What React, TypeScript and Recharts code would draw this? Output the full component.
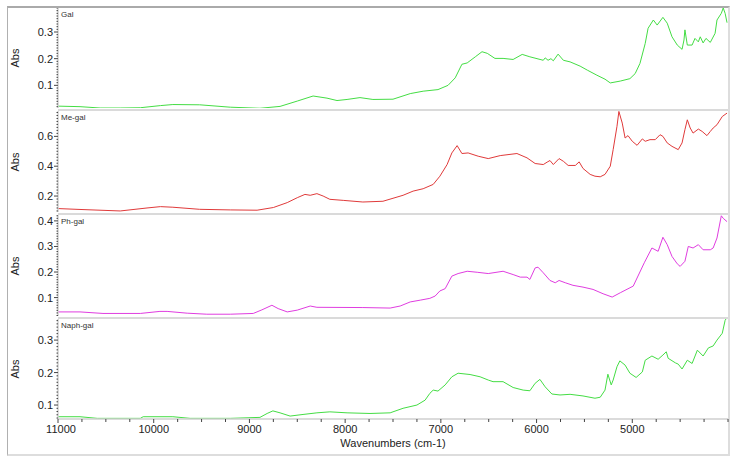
import React from 'react'
import { LineChart, Line, XAxis, YAxis } from 'recharts'

// wavenumbers (cm-1) and absorbance
const galWn = [11000, 10770, 10560, 10350, 10140, 9930, 9800, 9520, 9200, 8890, 8680, 8500, 8335, 8190, 8085, 7980, 7845, 7710, 7500, 7320, 7185, 7030, 6925, 6850, 6780, 6725, 6640, 6570, 6515, 6435, 6350, 6245, 6150, 6070, 5930, 5910, 5880, 5850, 5825, 5775, 5720, 5650, 5545, 5470, 5370, 5285, 5230, 5125, 5025, 4970, 4920, 4865, 4835, 4780, 4740, 4680, 4635, 4585, 4530, 4480, 4460, 4450, 4425, 4375, 4345, 4310, 4290, 4260, 4230, 4185, 4135, 4115, 4070, 4050, 4030, 4010]
const galAbs = [0.022, 0.02, 0.015, 0.015, 0.016, 0.024, 0.028, 0.027, 0.018, 0.014, 0.021, 0.041, 0.06, 0.052, 0.043, 0.047, 0.054, 0.047, 0.048, 0.069, 0.078, 0.084, 0.1, 0.128, 0.179, 0.184, 0.207, 0.226, 0.22, 0.201, 0.201, 0.197, 0.216, 0.207, 0.194, 0.203, 0.194, 0.2, 0.192, 0.217, 0.194, 0.188, 0.172, 0.157, 0.138, 0.123, 0.109, 0.116, 0.125, 0.144, 0.182, 0.257, 0.314, 0.345, 0.326, 0.355, 0.333, 0.282, 0.251, 0.235, 0.27, 0.308, 0.251, 0.251, 0.276, 0.263, 0.282, 0.259, 0.276, 0.261, 0.295, 0.345, 0.37, 0.39, 0.37, 0.335]

const meWn = [11000, 10770, 10350, 10070, 9930, 9800, 9520, 9200, 8920, 8750, 8605, 8500, 8420, 8365, 8295, 8230, 8160, 8020, 7815, 7605, 7500, 7395, 7290, 7185, 7080, 7010, 6935, 6885, 6830, 6780, 6715, 6610, 6505, 6380, 6205, 6100, 6015, 5930, 5890, 5860, 5825, 5765, 5720, 5670, 5595, 5555, 5515, 5440, 5390, 5335, 5285, 5230, 5200, 5160, 5140, 5105, 5075, 5045, 5000, 4950, 4895, 4865, 4815, 4760, 4710, 4680, 4635, 4585, 4520, 4480, 4450, 4425, 4395, 4365, 4310, 4270, 4220, 4185, 4155, 4115, 4060, 4010]
const meAbs = [0.116, 0.11, 0.1, 0.12, 0.129, 0.125, 0.111, 0.107, 0.105, 0.123, 0.156, 0.189, 0.211, 0.205, 0.216, 0.2, 0.178, 0.171, 0.16, 0.165, 0.185, 0.205, 0.233, 0.249, 0.278, 0.333, 0.411, 0.489, 0.538, 0.485, 0.489, 0.467, 0.451, 0.471, 0.485, 0.456, 0.418, 0.411, 0.427, 0.438, 0.411, 0.451, 0.433, 0.405, 0.405, 0.429, 0.385, 0.345, 0.333, 0.329, 0.345, 0.4, 0.511, 0.667, 0.767, 0.689, 0.589, 0.605, 0.567, 0.54, 0.583, 0.567, 0.578, 0.578, 0.611, 0.6, 0.556, 0.533, 0.511, 0.556, 0.645, 0.711, 0.656, 0.622, 0.649, 0.633, 0.605, 0.633, 0.656, 0.678, 0.733, 0.756]

const phWn = [11000, 10770, 10530, 10140, 9935, 9860, 9650, 9445, 9200, 8960, 8870, 8765, 8700, 8605, 8500, 8365, 8295, 7815, 7530, 7425, 7320, 7215, 7115, 7060, 7010, 6955, 6885, 6820, 6725, 6620, 6505, 6350, 6245, 6170, 6100, 6070, 6015, 5985, 5930, 5860, 5805, 5765, 5700, 5620, 5515, 5410, 5305, 5210, 5125, 4990, 4875, 4795, 4730, 4680, 4635, 4585, 4530, 4500, 4450, 4415, 4365, 4310, 4260, 4185, 4155, 4115, 4070, 4050, 4010]
const phAbs = [0.044, 0.044, 0.038, 0.038, 0.046, 0.046, 0.039, 0.035, 0.035, 0.038, 0.052, 0.07, 0.057, 0.044, 0.051, 0.067, 0.062, 0.061, 0.059, 0.067, 0.083, 0.09, 0.097, 0.106, 0.126, 0.135, 0.184, 0.194, 0.203, 0.199, 0.194, 0.203, 0.19, 0.18, 0.18, 0.171, 0.216, 0.219, 0.197, 0.167, 0.158, 0.167, 0.158, 0.148, 0.141, 0.132, 0.115, 0.102, 0.119, 0.145, 0.236, 0.294, 0.281, 0.336, 0.307, 0.261, 0.232, 0.222, 0.242, 0.3, 0.294, 0.307, 0.287, 0.287, 0.294, 0.333, 0.42, 0.41, 0.397]

const naphWn = [11000, 10770, 10590, 10140, 10110, 9800, 9620, 9200, 8890, 8815, 8755, 8680, 8575, 8440, 8295, 8160, 7980, 7740, 7530, 7395, 7250, 7165, 7115, 7080, 7030, 6955, 6885, 6820, 6695, 6590, 6505, 6455, 6350, 6245, 6140, 6070, 6015, 5965, 5910, 5840, 5755, 5650, 5515, 5390, 5335, 5285, 5255, 5220, 5200, 5160, 5130, 5075, 5025, 4960, 4895, 4865, 4795, 4730, 4680, 4645, 4625, 4550, 4520, 4480, 4425, 4375, 4320, 4260, 4205, 4155, 4115, 4060, 4030, 4010]
const naphAbs = [0.064, 0.064, 0.059, 0.059, 0.064, 0.064, 0.059, 0.059, 0.062, 0.074, 0.082, 0.076, 0.066, 0.071, 0.076, 0.079, 0.076, 0.074, 0.076, 0.09, 0.1, 0.115, 0.136, 0.146, 0.143, 0.162, 0.187, 0.198, 0.194, 0.187, 0.177, 0.172, 0.172, 0.154, 0.146, 0.144, 0.167, 0.179, 0.156, 0.134, 0.131, 0.133, 0.128, 0.121, 0.124, 0.146, 0.195, 0.162, 0.177, 0.218, 0.236, 0.223, 0.198, 0.185, 0.202, 0.238, 0.251, 0.241, 0.254, 0.264, 0.244, 0.23, 0.226, 0.211, 0.238, 0.228, 0.269, 0.251, 0.276, 0.282, 0.3, 0.321, 0.361, 0.37]

// tick labels
const xLabels = [11000, 10000, 9000, 8000, 7000, 6000, 5000]
const galTicks = [0.1, 0.2, 0.3]
const meTicks = [0.2, 0.4, 0.6]
const phTicks = [0.1, 0.2, 0.3, 0.4]
const naphTicks = [0.1, 0.2, 0.3]

const WN_DOMAIN: [number, number] = [4000, 11000]
const FONT = '"Liberation Sans", Arial, sans-serif'
const PLOT_LEFT = 58
const CHART_W = 736

const zip = (wn: number[], abs: number[]) => wn.map((w, i) => ({ wn: w, abs: abs[i] }))

const stepTicks = (lo: number, hi: number, step: number) => {
  const out: number[] = []
  const a = Math.ceil(lo / step - 1e-9)
  const b = Math.floor(hi / step + 1e-9)
  for (let k = a; k <= b; k++) out.push(+(k * step).toFixed(4))
  return out
}

const xTicks = stepTicks(WN_DOMAIN[0], WN_DOMAIN[1], 250)

const panels = [
  { name: 'Gal', color: '#44dd44', data: zip(galWn, galAbs), domain: [0.015, 0.39], majors: galTicks, minor: 0.01, top: 8, plotH: 100 },
  { name: 'Me-gal', color: '#e03a3a', data: zip(meWn, meAbs), domain: [0.093, 0.77], majors: meTicks, minor: 0.02, top: 111, plotH: 101 },
  { name: 'Ph-gal', color: '#e03de0', data: zip(phWn, phAbs), domain: [0.028, 0.423], majors: phTicks, minor: 0.01, top: 215, plotH: 101 },
  { name: 'Naph-gal', color: '#44dd44', data: zip(naphWn, naphAbs), domain: [0.057, 0.365], majors: naphTicks, minor: 0.01, top: 319, plotH: 100 },
]

const makeYTick = (majors: number[]) => (props: any) => {
  const { x, y, payload } = props
  const v = payload.value as number
  const major = majors.some((m) => Math.abs(m - v) < 1e-6)
  return (
    <g>
      <line x1={x - (major ? 4 : 1.5)} x2={x} y1={y} y2={y} stroke="#444" strokeWidth={1} />
      {major && (
        <text x={x - 5} y={y} dy={4} textAnchor="end" fontSize={11} fontFamily={FONT} fill="#222">
          {v.toFixed(1)}
        </text>
      )}
    </g>
  )
}

const XTick = (props: any) => {
  const { x, y, payload } = props
  const v = payload.value as number
  const major = xLabels.includes(v)
  return (
    <g>
      <line x1={x} x2={x} y1={y} y2={y + (major ? 4 : 3)} stroke="#444" strokeWidth={1} />
      {major && (
        <text x={x + (v === 11000 ? 3 : 0)} y={y + 14} textAnchor="middle" fontSize={11} fontFamily={FONT} fill="#222">
          {v}
        </text>
      )}
    </g>
  )
}

function Panel({ p, last }: { p: (typeof panels)[number]; last: boolean }) {
  const xH = last ? 36 : 0
  const yTicks = Array.from(new Set([...stepTicks(p.domain[0], p.domain[1], p.minor), ...p.majors])).sort((a, b) => a - b)
  return (
    <div style={{ position: 'absolute', left: 0, top: p.top, width: CHART_W, height: p.plotH + xH }}>
      <LineChart width={CHART_W} height={p.plotH + xH} data={p.data} margin={{ top: 0, right: CHART_W - 728, bottom: 0, left: 0 }}>
        <XAxis
          type="number"
          dataKey="wn"
          domain={WN_DOMAIN}
          reversed
          allowDataOverflow
          hide={!last}
          height={xH}
          ticks={xTicks}
          interval={0}
          tick={XTick}
          tickLine={false}
          tickSize={0}
          tickMargin={0}
          axisLine={{ stroke: '#cfcfcf', strokeWidth: 1.5 }}
          label={last ? { value: 'Wavenumbers (cm-1)', position: 'insideBottom', offset: 8, fontSize: 11, fontFamily: FONT, fill: '#222' } : undefined}
        />
        <YAxis
          type="number"
          domain={p.domain}
          allowDataOverflow
          width={PLOT_LEFT}
          ticks={yTicks}
          interval={0}
          tick={makeYTick(p.majors)}
          tickLine={false}
          tickSize={0}
          tickMargin={0}
          axisLine={{ stroke: '#cfcfcf', strokeWidth: 1.5 }}
        />
        <Line type="linear" dataKey="abs" stroke={p.color} strokeWidth={1} dot={false} isAnimationActive={false} />
      </LineChart>
      <div style={{ position: 'absolute', left: 61, top: 2.5, fontSize: 8, lineHeight: '8px', fontFamily: FONT, color: '#333' }}>{p.name}</div>
      <div
        style={{
          position: 'absolute',
          left: -5,
          top: p.plotH / 2 - 7,
          width: 40,
          height: 14,
          lineHeight: '14px',
          textAlign: 'center',
          fontSize: 11,
          fontFamily: FONT,
          color: '#222',
          transform: 'rotate(-90deg)',
        }}
      >
        Abs
      </div>
    </div>
  )
}

export default function App() {
  return (
    <div style={{ position: 'absolute', left: 0, top: 0, width: 736, height: 463, background: '#fff', overflow: 'hidden' }}>
      <div
        style={{
          position: 'absolute',
          left: 7,
          top: 6,
          width: 723,
          height: 450,
          boxSizing: 'border-box',
          borderTop: '2px solid #aaaaaa',
          borderLeft: '1px solid #b0b0b0',
          borderRight: '2px solid #dddddd',
          borderBottom: '2px solid #dddddd',
        }}
      />
      {panels.map((p, i) => (
        <Panel key={p.name} p={p} last={i === panels.length - 1} />
      ))}
      {[108.5, 212.5, 316.5].map((t) => (
        <div key={t} style={{ position: 'absolute', left: PLOT_LEFT, top: t, width: 728 - PLOT_LEFT, height: 2, background: '#dadada' }} />
      ))}
    </div>
  )
}
